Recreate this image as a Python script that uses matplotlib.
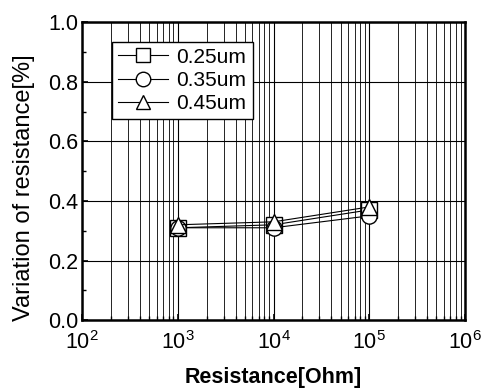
import matplotlib
matplotlib.use("Agg")
import matplotlib.pyplot as plt
from matplotlib.ticker import LogLocator, MultipleLocator, FixedLocator

plt.rcParams['font.family'] = ['Liberation Sans', 'DejaVu Sans']

# resistance values and variation per line width
resistance = [1e3, 1e4, 1e5]
var_025 = [0.31, 0.32, 0.37]
var_035 = [0.31, 0.31, 0.35]
var_045 = [0.32, 0.33, 0.38]
labels = ["0.25um", "0.35um", "0.45um"]
markers = ["s", "o", "^"]

fig = plt.figure(figsize=(4.86, 3.89), dpi=100)
ax = fig.add_axes([0.169, 0.177, 0.788, 0.766])

for ys, lab, m in zip([var_025, var_035, var_045], labels, markers):
    ax.plot(resistance, ys, color='black', linewidth=0.8, marker=m,
            markersize=11, markerfacecolor='white', markeredgecolor='black',
            markeredgewidth=1.0, label=lab)

ax.set_xscale('log')
ax.set_xlim(1e2, 1e6)
ax.set_ylim(0.0, 1.0)
ax.xaxis.set_major_locator(FixedLocator([1e2, 1e3, 1e4, 1e5, 1e6]))
ax.xaxis.set_minor_locator(LogLocator(base=10, subs=range(2, 10), numticks=20))
ax.yaxis.set_major_locator(MultipleLocator(0.2))
ax.yaxis.set_minor_locator(MultipleLocator(0.1))
ax.yaxis.set_major_formatter(matplotlib.ticker.FormatStrFormatter('%.1f'))

ax.grid(which='major', axis='both', color='black', linewidth=0.8)
ax.grid(which='minor', axis='x', color='black', linewidth=0.6)

ax.tick_params(which='both', direction='in', top=False, right=False, labelsize=15.5)
ax.tick_params(axis='x', pad=8)
ax.tick_params(axis='y', pad=3)
ax.tick_params(which='major', length=4, width=1.2)
ax.tick_params(which='minor', length=3, width=1.0)
for sp in ax.spines.values():
    sp.set_linewidth(1.8)

ax.set_ylabel("Variation of resistance[%]", fontsize=17)
ax.yaxis.set_label_coords(-0.123, 0.445)
ax.set_xlabel("Resistance[Ohm]", fontsize=15.5, fontweight='bold', labelpad=9)

leg = ax.legend(loc='upper left', bbox_to_anchor=(0.078, 0.935), fontsize=15,
                frameon=True, fancybox=False, edgecolor='black', framealpha=1,
                handlelength=2.4, handletextpad=0.4, borderpad=0.3,
                labelspacing=0.2, borderaxespad=0, markerscale=0.95)
leg.get_frame().set_linewidth(1.0)

fig.savefig("out.png", dpi=100)
